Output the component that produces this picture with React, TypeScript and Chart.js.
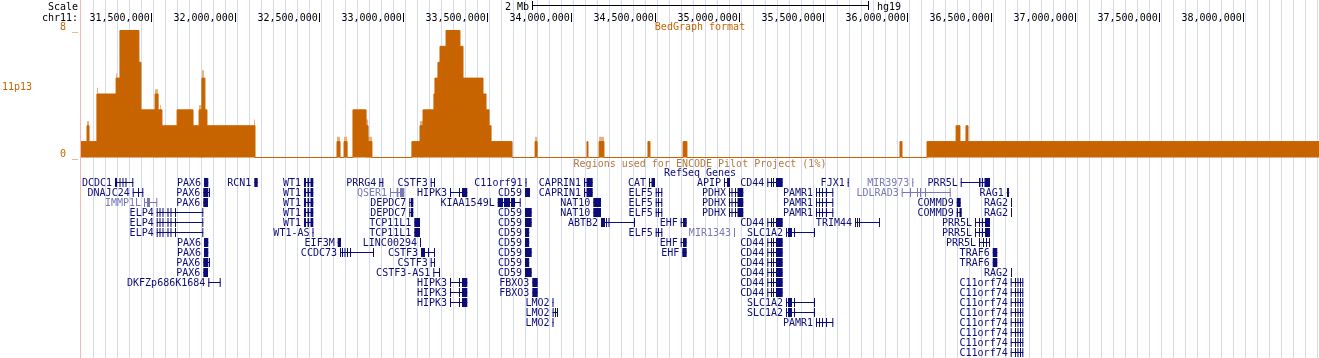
import React, { useEffect, useRef } from 'react';
import { Chart, registerables } from 'chart.js';

Chart.register(...registerables);

// ---------- view & axis ----------
const viewStart = 31.0792; // Mb
const viewEnd = 38.4482; // Mb
const positionTicks = [31.5, 32, 32.5, 33, 33.5, 34, 34.5, 35, 35.5, 36, 36.5, 37, 37.5, 38];
const bedTicks = [0, 8];

// ---------- bedGraph (11p13) : step starts (Mb) and values ----------
const bedStarts = [
  31.0792, 31.115, 31.127, 31.174, 31.288, 31.311, 31.424, 31.436, 31.52, 31.538,
  31.561, 31.651, 31.746, 31.782, 31.799, 31.817, 31.829, 32.115, 32.603, 32.621,
  32.645, 32.663, 32.698, 32.776, 32.788, 32.811, 33.049, 33.097, 33.115, 33.18,
  33.186, 33.204, 33.216, 33.252, 33.335, 33.353, 33.472, 33.49, 33.508, 33.52,
  33.645, 33.782, 33.794, 34.091, 34.097, 34.163, 34.192, 34.454, 34.466, 34.663,
  34.686, 35.954, 35.966, 36.115, 36.288, 36.311, 36.347, 36.359,
];
const bedValues = [
  1, 2, 1, 4, 5, 8, 6, 3, 4, 3,
  2, 3, 2, 3, 5, 3, 2, 0, 1, 0,
  1, 0, 3, 2, 1, 0, 1, 2, 3, 4,
  5, 6, 7, 8, 7, 5, 4, 3, 2, 1,
  0, 1, 0, 1, 0, 1, 0, 1, 0, 1,
  0, 1, 0, 1, 2, 1, 2, 1,
];
// maximum whiskers (lighter shade) where they rise above the mean
const whiskerStarts = [
  31.0792, 31.115, 31.127, 31.174, 31.18, 31.288, 31.294, 31.52, 31.538, 31.549,
  31.555, 31.782, 31.799, 31.811, 32.109, 32.115, 32.603, 32.621, 32.645, 32.663,
  32.776, 32.788, 32.811, 33.097, 33.115, 33.782, 33.794, 34.163, 34.192,
];
const whiskerValues = [
  0, 2.3, 0, 4.4, 0, 5.3, 0, 4.3, 0, 3.3,
  0, 3.3, 5.5, 0, 2.4, 0, 1.3, 0, 1.3, 0,
  2.4, 1.3, 0, 2.3, 0, 1.3, 0, 1.3, 0,
];

// ---------- RefSeq gene models (Mb) ----------
const modelIds = [
  'DCDC1', 'PAX6#a', 'PAX6#b', 'PAX6#c', 'RCN1', 'WT1', 'PRRG4', 'CSTF3#a', 'C11orf91', 'CAPRIN1',
  'CAT', 'APIP', 'CD44', 'FJX1', 'MIR3973', 'PRR5L#a', 'DNAJC24', 'QSER1', 'HIPK3', 'CD59#a',
  'CD59#b', 'CD59#c', 'ELF5', 'PDHX', 'PAMR1', 'LDLRAD3', 'RAG1', 'IMMP1L', 'DEPDC7', 'KIAA1549L',
  'NAT10', 'COMMD9#a', 'COMMD9#b', 'RAG2', 'ELP4', 'TCP11L1', 'ABTB2', 'EHF#a', 'EHF#b', 'TRIM44',
  'PRR5L#b', 'PRR5L#c', 'WT1-AS', 'MIR1343', 'SLC1A2', 'EIF3M', 'LINC00294', 'CCDC73', 'CSTF3#b', 'TRAF6',
  'CSTF3-AS1', 'DKFZp686K1684', 'FBXO3', 'C11orf74', 'LMO2#a', 'LMO2#b',
];
const modelStarts = [
  31.2815, 31.8113, 31.8071, 31.8071, 32.1107, 32.4065, 32.8548, 33.1607, 33.725, 34.0732,
  34.4601, 34.9065, 35.1643, 35.6429, 36.0274, 36.3155, 31.3869, 32.9185, 33.2756, 33.722,
  33.722, 33.722, 34.5, 34.9363, 35.4542, 35.9643, 36.5893, 31.4542, 33.0333, 33.5595,
  34.1286, 36.2917, 36.2917, 36.6149, 31.5298, 33.0631, 34.1744, 34.6488, 34.6583, 35.6863,
  36.4006, 36.4244, 32.4571, 34.9661, 35.2756, 32.6071, 33.097, 32.6208, 33.103, 36.506,
  33.1762, 31.8369, 33.7655, 36.6131, 33.8857, 33.8863,
];
const modelEnds = [
  31.3905, 31.8369, 31.847, 31.8351, 32.131, 32.4619, 32.8786, 33.1863, 33.731, 34.125,
  34.4958, 34.9423, 35.256, 35.6488, 36.0333, 36.4899, 31.45, 33.0036, 33.3786, 33.7518,
  33.7619, 33.747, 34.5393, 35.0214, 35.5571, 36.256, 36.6048, 31.5333, 33.0571, 33.6964,
  34.1744, 36.3155, 36.3214, 36.6208, 31.8071, 33.097, 34.3768, 34.6845, 34.6845, 35.8351,
  36.4899, 36.4899, 32.4631, 34.972, 35.4482, 32.6268, 33.103, 32.8232, 33.1863, 36.5333,
  33.2161, 31.9107, 33.7976, 36.6881, 33.8917, 33.9185,
];
const modelExons: number[][][] = [
  [[31.2815, 31.2935], [31.3083, 31.3143], [31.3262, 31.3321], [31.344, 31.35], [31.3845, 31.3905]],
  [[31.8113, 31.8369]],
  [[31.8071, 31.8369], [31.8411, 31.847]],
  [[31.8071, 31.8351]],
  [[32.1107, 32.131]],
  [[32.4065, 32.4185], [32.4274, 32.4363], [32.4452, 32.4619]],
  [[32.8548, 32.8607], [32.8726, 32.8786]],
  [[33.1607, 33.1667], [33.1804, 33.1863]],
  [[33.725, 33.731]],
  [[34.0732, 34.0792], [34.0881, 34.125]],
  [[34.4601, 34.4661], [34.475, 34.4958]],
  [[34.9065, 34.9125], [34.9244, 34.9423]],
  [[35.1643, 35.1702], [35.1863, 35.1923], [35.1982, 35.2042], [35.2161, 35.256]],
  [[35.6429, 35.6488]],
  [[36.0274, 36.0333]],
  [[36.3155, 36.3214], [36.4244, 36.4333], [36.4423, 36.4482], [36.4571, 36.4899]],
  [[31.3869, 31.3929], [31.4185, 31.4244], [31.444, 31.45]],
  [[32.9185, 32.9244], [32.9583, 32.9679], [32.978, 33.0036]],
  [[33.2756, 33.2815], [33.3292, 33.3351], [33.347, 33.3786]],
  [[33.722, 33.7518]],
  [[33.722, 33.7619]],
  [[33.722, 33.747]],
  [[34.5, 34.506], [34.5137, 34.5196], [34.5333, 34.5393]],
  [[34.9363, 34.9423], [34.9512, 34.9571], [34.972, 34.978], [34.9869, 35.0214]],
  [[35.4542, 35.4601], [35.472, 35.478], [35.4899, 35.4958], [35.5137, 35.5196], [35.5512, 35.5571]],
  [[35.9643, 35.9702], [36.0137, 36.0196], [36.0554, 36.0613], [36.0732, 36.0792], [36.103, 36.1089], [36.25, 36.256]],
  [[36.5911, 36.603]],
  [[31.4542, 31.4601], [31.472, 31.4899], [31.5274, 31.5333]],
  [[33.0333, 33.0393], [33.0435, 33.0571]],
  [[33.5595, 33.5911], [33.597, 33.6327], [33.6387, 33.6625], [33.6905, 33.6964]],
  [[34.1286, 34.1744]],
  [[36.2917, 36.3155]],
  [[36.2917, 36.2994], [36.3083, 36.3214]],
  [[36.6149, 36.6208]],
  [[31.5298, 31.5357], [31.5464, 31.5524], [31.5643, 31.5702], [31.594, 31.6], [31.6119, 31.6179], [31.6387, 31.6446], [31.8012, 31.8071]],
  [[33.0631, 33.097]],
  [[34.1744, 34.1982], [34.2042, 34.2101], [34.219, 34.225], [34.3708, 34.3768]],
  [[34.6488, 34.6548], [34.6625, 34.6845]],
  [[34.6583, 34.6845]],
  [[35.6863, 35.6923], [35.6982, 35.7042], [35.7101, 35.7161], [35.8292, 35.8351]],
  [[36.4006, 36.4065], [36.4244, 36.4304], [36.4423, 36.4482], [36.4601, 36.4899]],
  [[36.4244, 36.4304], [36.4482, 36.4542], [36.4661, 36.472], [36.4839, 36.4899]],
  [[32.4571, 32.4631]],
  [[34.9661, 34.972]],
  [[35.2756, 35.2815], [35.2875, 35.3113], [35.3232, 35.3292], [35.4423, 35.4482]],
  [[32.6071, 32.6268]],
  [[33.097, 33.103]],
  [[32.6208, 32.6268], [32.6327, 32.6387], [32.6476, 32.6536], [32.6625, 32.6685], [32.6804, 32.6863], [32.8173, 32.8232]],
  [[33.103, 33.1268], [33.1446, 33.1506], [33.1804, 33.1863]],
  [[36.506, 36.5333]],
  [[33.1762, 33.1821], [33.2101, 33.2161]],
  [[31.8369, 31.8429], [31.9048, 31.9107]],
  [[33.7655, 33.7976]],
  [[36.6131, 36.619], [36.6387, 36.6446], [36.6536, 36.6595], [36.6685, 36.6744], [36.6821, 36.6881]],
  [[33.8857, 33.8917]],
  [[33.8863, 33.8923], [33.9006, 33.9065], [33.9125, 33.9185]],
];
const lightGenes = ['IMMP1L', 'QSER1', 'LDLRAD3', 'MIR3973', 'MIR1343'];
const rowGenes: string[][] = [
  ['DCDC1', 'PAX6#a', 'RCN1', 'WT1', 'PRRG4', 'CSTF3#a', 'C11orf91', 'CAPRIN1', 'CAT', 'APIP', 'CD44', 'FJX1', 'MIR3973', 'PRR5L#a'],
  ['DNAJC24', 'PAX6#b', 'WT1', 'QSER1', 'HIPK3', 'CD59#a', 'CAPRIN1', 'ELF5', 'PDHX', 'PAMR1', 'LDLRAD3', 'RAG1'],
  ['IMMP1L', 'PAX6#c', 'WT1', 'DEPDC7', 'KIAA1549L', 'NAT10', 'ELF5', 'PDHX', 'PAMR1', 'COMMD9#a', 'RAG2'],
  ['ELP4', 'WT1', 'DEPDC7', 'CD59#b', 'NAT10', 'ELF5', 'PDHX', 'PAMR1', 'COMMD9#b', 'RAG2'],
  ['ELP4', 'WT1', 'TCP11L1', 'CD59#b', 'ABTB2', 'EHF#a', 'CD44', 'TRIM44', 'PRR5L#b'],
  ['ELP4', 'WT1-AS', 'TCP11L1', 'CD59#c', 'ELF5', 'MIR1343', 'SLC1A2', 'PRR5L#b'],
  ['PAX6#a', 'EIF3M', 'LINC00294', 'CD59#c', 'EHF#a', 'CD44', 'PRR5L#c'],
  ['PAX6#a', 'CCDC73', 'CSTF3#b', 'CD59#b', 'EHF#b', 'CD44', 'TRAF6'],
  ['PAX6#b', 'CSTF3#a', 'CD59#c', 'CD44', 'TRAF6'],
  ['PAX6#c', 'CSTF3-AS1', 'CD59#b', 'CD44', 'RAG2'],
  ['DKFZp686K1684', 'HIPK3', 'FBXO3', 'CD44', 'C11orf74'],
  ['HIPK3', 'FBXO3', 'CD44', 'C11orf74'],
  ['HIPK3', 'LMO2#a', 'SLC1A2', 'C11orf74'],
  ['LMO2#b', 'SLC1A2', 'C11orf74'],
  ['LMO2#a', 'PAMR1', 'C11orf74'],
  ['C11orf74'],
  ['C11orf74'],
  ['C11orf74'],
];

// ---------- style ----------
const W = 1319;
const H = 358;
const LABEL_W = 81;
const TOP_H = 22;
const BED_MIN = -12.63;
const BED_MAX = 8.535;
const GENE_MIN = -16.05;
const GENE_MAX = 17.55;
const ORANGE = '#c86400';
const ORANGE_LIGHT = '#e4b27f';
const GENE_DARK = '#0c0c78';
const GENE_LIGHT = '#7878b4';
const GUIDE = '#d8d8fa';
const PINK = '#ffb4b4';
const ENCODE_COL = '#b4783c';
const MONO = '"DejaVu Sans Mono", monospace';
const FONT10 = '10px ' + MONO;

const fmtBp = (v: number) => Math.round(v * 1e6).toLocaleString('en-US');
const nameOf = (id: string) => id.split('#')[0];

function buildGenes(light: boolean) {
  const lines: any[] = [];
  const exons: any[] = [];
  rowGenes.forEach((ids, row) => {
    ids.forEach((id) => {
      if (lightGenes.includes(nameOf(id)) !== light) return;
      const i = modelIds.indexOf(id);
      lines.push({ x: modelStarts[i], y: row }, { x: modelEnds[i], y: row }, { x: modelEnds[i], y: null });
      modelExons[i].forEach(([a, b]) => {
        exons.push({ x: a, y: row }, { x: b, y: row }, { x: b, y: null });
      });
    });
  });
  return { lines, exons };
}

function stepData(starts: number[], values: number[]) {
  const d = starts.map((x, i) => ({ x, y: values[i] }));
  d.push({ x: viewEnd, y: values[values.length - 1] });
  return d;
}

const decorPlugin = {
  id: 'ucscDecor',
  beforeDraw(chart: any) {
    const { ctx, chartArea } = chart;
    ctx.save();
    ctx.fillStyle = '#ffffff';
    ctx.fillRect(0, 0, W, H);
    ctx.fillStyle = GUIDE;
    for (let x = chartArea.left + 12; x < chartArea.right; x += 12) ctx.fillRect(x, 0, 1, H);
    ctx.fillStyle = PINK;
    ctx.fillRect(chartArea.left - 1, 0, 1, H);
    ctx.restore();
  },
  afterDatasetsDraw(chart: any) {
    const { ctx, chartArea } = chart;
    const xs = chart.scales.x;
    const ys = chart.scales.yGene;
    ctx.save();
    ctx.font = FONT10;
    ctx.textBaseline = 'alphabetic';
    // gene labels
    ctx.textAlign = 'right';
    rowGenes.forEach((ids, row) => {
      ids.forEach((id) => {
        const name = nameOf(id);
        const i = modelIds.indexOf(id);
        ctx.fillStyle = lightGenes.includes(name) ? GENE_LIGHT : GENE_DARK;
        const px = xs.getPixelForValue(modelStarts[i]) - 3;
        const py = ys.getPixelForValue(row) + 3.5;
        ctx.fillText(name, px, py);
      });
    });
    // left column labels
    ctx.fillStyle = '#000';
    ctx.fillText('Scale', 78, 10);
    ctx.fillText('chr11:', 78, 21);
    ctx.textAlign = 'left';
    ctx.fillStyle = ORANGE;
    ctx.fillText('11p13', 2, 90);
    // track titles
    const mid = (chartArea.left + chartArea.right) / 2;
    ctx.textAlign = 'center';
    ctx.fillText('BedGraph format', mid, 30);
    ctx.fillStyle = ENCODE_COL;
    ctx.fillText('Regions used for ENCODE Pilot Project (1%)', mid, 167);
    ctx.fillStyle = GENE_DARK;
    ctx.fillText('RefSeq Genes', mid, 176);
    // scale bar (2 Mb centred on the view)
    const midVal = xs.getValueForPixel(mid);
    const p1 = Math.round(xs.getPixelForValue(midVal - 1));
    const p2 = Math.round(xs.getPixelForValue(midVal + 1));
    ctx.fillStyle = '#000';
    ctx.fillRect(p1, 5, p2 - p1 + 1, 1);
    ctx.fillRect(p1, 1, 1, 9);
    ctx.fillRect(p2, 1, 1, 9);
    ctx.textAlign = 'right';
    ctx.fillText('2 Mb', p1 - 3, 10);
    ctx.textAlign = 'left';
    ctx.fillText('hg19', p2 + 9, 10);
    ctx.restore();
  },
};

export default function App() {
  const ref = useRef<HTMLCanvasElement>(null);
  useEffect(() => {
    if (!ref.current) return;
    const dark = buildGenes(false);
    const light = buildGenes(true);
    const geneBase = { yAxisID: 'yGene', xAxisID: 'x', pointRadius: 0, fill: false, stepped: true, borderCapStyle: 'butt' as const, spanGaps: false };
    const chart = new Chart(ref.current, {
      type: 'line',
      data: {
        datasets: [
          { label: 'RefSeq exons', data: dark.exons, borderColor: GENE_DARK, borderWidth: 9, ...geneBase },
          { label: 'RefSeq introns', data: dark.lines, borderColor: GENE_DARK, borderWidth: 1, ...geneBase },
          { label: 'RefSeq exons (other)', data: light.exons, borderColor: GENE_LIGHT, borderWidth: 9, ...geneBase },
          { label: 'RefSeq introns (other)', data: light.lines, borderColor: GENE_LIGHT, borderWidth: 1, ...geneBase },
          { label: '11p13', data: stepData(bedStarts, bedValues), yAxisID: 'yBed', xAxisID: 'x', borderColor: ORANGE, backgroundColor: ORANGE, borderWidth: 1, fill: 'origin', stepped: true, pointRadius: 0 },
          { label: '11p13 max', data: stepData(whiskerStarts, whiskerValues), yAxisID: 'yBed', xAxisID: 'x', borderColor: ORANGE_LIGHT, backgroundColor: ORANGE_LIGHT, borderWidth: 0, fill: 'origin', stepped: true, pointRadius: 0 },
        ] as any,
      },
      options: {
        responsive: false,
        animation: false,
        devicePixelRatio: 1,
        layout: { padding: 0 },
        plugins: { legend: { display: false }, tooltip: { enabled: false }, title: { display: false } },
        elements: { point: { radius: 0 }, line: { tension: 0 } },
        scales: {
          x: {
            type: 'linear',
            position: 'top',
            min: viewStart,
            max: viewEnd,
            afterBuildTicks: (s: any) => { s.ticks = positionTicks.map((v) => ({ value: v })); },
            afterFit: (s: any) => { s.height = TOP_H; s.paddingLeft = 0; s.paddingRight = 0; },
            ticks: { align: 'end', labelOffset: -2, padding: -11, color: '#000', font: { family: MONO, size: 10 }, maxRotation: 0, autoSkip: false, callback: (v: any) => fmtBp(Number(v)) },
            grid: { drawOnChartArea: false, drawTicks: true, tickLength: 9, tickColor: '#000', color: '#000' },
            border: { display: false },
          },
          yBed: {
            type: 'linear',
            position: 'left',
            min: BED_MIN,
            max: BED_MAX,
            afterBuildTicks: (s: any) => { s.ticks = bedTicks.map((v) => ({ value: v })); },
            afterFit: (s: any) => { s.width = LABEL_W; s.paddingTop = 0; s.paddingBottom = 0; },
            ticks: { color: ORANGE, padding: 3, labelOffset: -3, font: { family: MONO, size: 10 }, callback: (v: any) => `${v} _` },
            grid: { display: false, drawTicks: false, tickLength: 0 },
            border: { display: false },
          },
          yGene: { type: 'linear', display: false, reverse: true, min: GENE_MIN, max: GENE_MAX },
        } as any,
      },
      plugins: [decorPlugin],
    });
    return () => chart.destroy();
  }, []);
  return (
    <div style={{ position: 'fixed', left: 0, top: 0, width: W, height: H, background: '#fff' }}>
      <canvas ref={ref} width={W} height={H} style={{ display: 'block', width: W, height: H }} />
    </div>
  );
}
